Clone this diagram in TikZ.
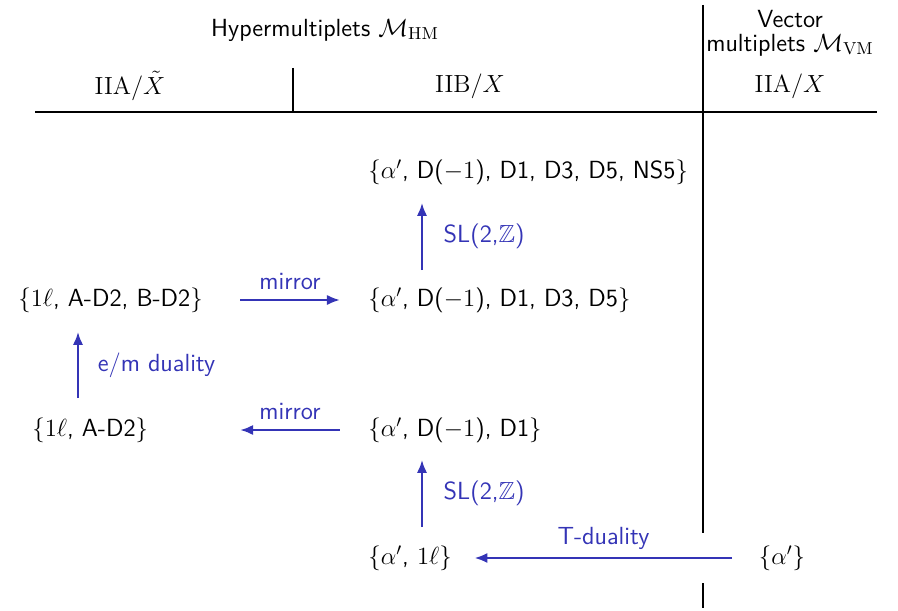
\RequirePackage{fix-cm}
\documentclass[tikz,border=0pt]{standalone}
\usepackage{amsmath, amssymb}
\usepackage{xcolor}
\usepackage{tikz}
\usetikzlibrary{arrows.meta, positioning}
\definecolor{dualBlue}{RGB}{52, 52, 182}
\newcommand{\picfont}{\fontsize{13.2}{13.6}\selectfont\sffamily}
\tikzset{
  setnode/.style={
    inner sep=0pt, anchor=west,
    font=\picfont
  },
  headnode/.style={
    inner sep=0pt, align=center,
    font=\picfont
  },
  duality/.style={
    -{Latex[length=2.4mm,width=1.9mm]},
    line width=1.1pt,
    color=dualBlue
  },
  duallabel/.style={
    inner sep=0pt,
    font=\picfont, text=dualBlue
  },
  rule/.style={
    line width=1pt
  }
}

\begin{document}
\begin{tikzpicture}[x=0.0187cm, y=-0.0187cm]
\useasboundingbox (0,0) rectangle (898,610);

% --- Table frame ---
\draw[rule] (35,112) -- (877,112);
\draw[rule] (703,5) -- (703,533);
\draw[rule] (703,583) -- (703,608);
\draw[line width=0.6pt] (293,68) -- (293,112);

% --- Headings ---
\node[headnode] (hmHead) at (325,30) {Hypermultiplets $\mathcal{M}_{\mathrm{HM}}$};
\node[headnode] (vmHead) at (790,33) {Vector\\[-1pt]multiplets $\mathcal{M}_{\mathrm{VM}}$};
\node[headnode] (colIIAt) at (130,86) {$\mathrm{IIA}/\tilde{X}$};
\node[headnode] (colIIB) at (470,86) {$\mathrm{IIB}/X$};
\node[headnode] (colIIA) at (790,86) {$\mathrm{IIA}/X$};

% --- IIB column ---
\node[setnode] (setSix) at (368,172) {$\{\alpha'$, D($-1$), D1, D3, D5, NS5$\}$};
\node[setnode] (setFive) at (368,300) {$\{\alpha'$, D($-1$), D1, D3, D5$\}$};
\node[setnode] (setThree) at (368,430) {$\{\alpha'$, D($-1$), D1$\}$};
\node[setnode] (setTwo) at (368,558) {$\{\alpha'$, $1\ell\}$};

% --- IIA/Xtilde column ---
\node[setnode] (mirA) at (18,300) {$\{1\ell$, A-D2, B-D2$\}$};
\node[setnode] (mirB) at (32,430) {$\{1\ell$, A-D2$\}$};

% --- IIA/X column ---
\node[headnode] (vmSet) at (782,558) {$\{\alpha'\}$};

% --- helper points for vertical arrows ---
\coordinate (slTop) at (422,203);
\coordinate (slTopTail) at (422,270);
\coordinate (slBot) at (422,460);
\coordinate (slBotTail) at (422,527);
\coordinate (emTip) at (78,332);
\coordinate (emTail) at (78,398);

% --- duality arrows ---
\draw[duality] (slTopTail) -- (slTop)
  node[duallabel, midway, right=11pt] (slLabA) {SL(2,$\mathbb{Z}$)};
\draw[duality] (slBotTail) -- (slBot)
  node[duallabel, midway, right=11pt] (slLabB) {SL(2,$\mathbb{Z}$)};
\draw[duality] (emTail) -- (emTip)
  node[duallabel, midway, right=10pt] (emLab) {e/m duality};
\draw[duality] ([xshift=-68pt]setFive.west) -- ([xshift=-15pt]setFive.west)
  node[duallabel, midway, above=5pt] (mirLabA) {mirror};
\draw[duality] ([xshift=-15pt]setThree.west) -- ([xshift=-68pt]setThree.west)
  node[duallabel, midway, above=5pt] (mirLabB) {mirror};
\draw[duality] ([xshift=-14pt]vmSet.west) -- ([xshift=12pt]setTwo.east)
  node[duallabel, midway, above=4pt] (tLab) {T-duality};

\end{tikzpicture}
\end{document}
